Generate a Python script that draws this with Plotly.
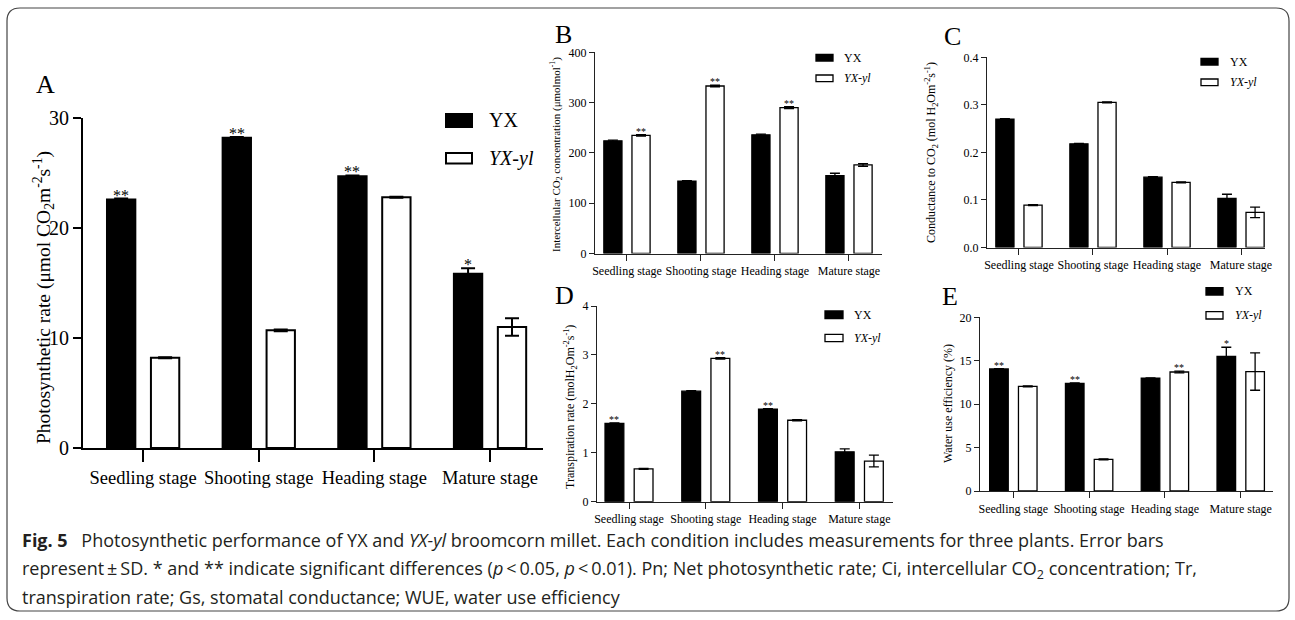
import plotly.graph_objects as go

W, H = 1295, 620

stages = ["Seedling stage", "Shooting stage", "Heading stage", "Mature stage"]
series_names = ["YX", "<i>YX-yl</i>"]

# A: photosynthetic rate
pn_yx = [22.6, 28.2, 24.7, 15.85]
pn_yx_sd = [0.08, 0.08, 0.08, 0.5]
pn_yl = [8.2, 10.7, 22.8, 11.0]
pn_yl_sd = [0.04, 0.08, 0.04, 0.8]
pn_yx_sig = ["**", "**", "**", "*"]
pn_yl_sig = ["", "", "", ""]

# B: intercellular CO2 concentration
ci_yx = [224, 144, 236, 155]
ci_yx_sd = [1.5, 1.0, 1.5, 4.5]
ci_yl = [235, 333, 290, 176]
ci_yl_sd = [1.5, 1.5, 2.0, 2.5]
ci_yx_sig = ["", "", "", ""]
ci_yl_sig = ["**", "**", "**", ""]

# C: conductance to CO2
gs_yx = [0.270, 0.218, 0.148, 0.103]
gs_yx_sd = [0.001, 0.001, 0.001, 0.009]
gs_yl = [0.089, 0.305, 0.137, 0.074]
gs_yl_sd = [0.001, 0.001, 0.001, 0.011]
gs_yx_sig = ["", "", "", ""]
gs_yl_sig = ["", "", "", ""]

# D: transpiration rate
tr_yx = [1.60, 2.26, 1.89, 1.02]
tr_yx_sd = [0.01, 0.01, 0.01, 0.06]
tr_yl = [0.67, 2.93, 1.665, 0.83]
tr_yl_sd = [0.01, 0.015, 0.01, 0.12]
tr_yx_sig = ["**", "", "**", ""]
tr_yl_sig = ["", "**", "", ""]

# E: water use efficiency
wue_yx = [14.05, 12.4, 13.0, 15.5]
wue_yx_sd = [0.05, 0.05, 0.03, 1.05]
wue_yl = [12.05, 3.65, 13.7, 13.75]
wue_yl_sd = [0.05, 0.05, 0.1, 2.15]
wue_yx_sig = ["**", "**", "", "*"]
wue_yl_sig = ["", "", "**", ""]

y_titles = [
    "Photosynthetic rate (μmol CO<sub>2</sub>m<sup>-2</sup>s<sup>-1</sup>)",
    "Intercellular CO<sub>2</sub> concentration (μmolmol<sup>-1</sup>)",
    "Conductance to CO<sub>2</sub> (mol H<sub>2</sub>Om<sup>-2</sup>s<sup>-1</sup>)",
    "Transpiration rate (molH<sub>2</sub>Om<sup>-2</sup>s<sup>-1</sup>)",
    "Water use efficiency (%)",
]
panel_letters = ["A", "B", "C", "D", "E"]

data = [
    (pn_yx, pn_yx_sd, pn_yl, pn_yl_sd, pn_yx_sig, pn_yl_sig),
    (ci_yx, ci_yx_sd, ci_yl, ci_yl_sd, ci_yx_sig, ci_yl_sig),
    (gs_yx, gs_yx_sd, gs_yl, gs_yl_sd, gs_yx_sig, gs_yl_sig),
    (tr_yx, tr_yx_sd, tr_yl, tr_yl_sd, tr_yx_sig, tr_yl_sig),
    (wue_yx, wue_yx_sd, wue_yl, wue_yl_sd, wue_yx_sig, wue_yl_sig),
]

# layout geometry (pixels)
geom = [
    dict(x0=83, x1=543, yb=448, yt=118, xr=[-0.52, 3.458], yr=[0, 30], dt=10, fmt="d",
         tfs=20, xfs=18.5, ttx=43, tty=298, let=(45, 84), lfs=20, lbx=(446, 472), lb1=(114, 127), lb2=(153, 163.5), ltx=487,
         lw=2, ytl=8, xtl=12, sfs=16, sshift=-7, eb=7, axc="#000", title_fs=19.5),
    dict(x0=595, x1=882, yb=253.5, yt=52.3, xr=[-0.432, 3.446], yr=[0, 400], dt=100, fmt="d",
         tfs=12, xfs=12, ttx=556, tty=155, let=(563, 35), lfs=12, lbx=(816, 833), lb1=(54.3, 61), lb2=(75, 81.7), ltx=842,
         lw=1.3, ytl=5, xtl=6, sfs=10, sshift=-4, eb=5, axc="#222", title_fs=11),
    dict(x0=987, x1=1265, yb=247.5, yt=57.3, xr=[-0.432, 3.324], yr=[0, 0.4], dt=0.1, fmt=".1f",
         tfs=12, xfs=12, ttx=931, tty=153, let=(952, 36), lfs=12, lbx=(1201, 1218), lb1=(58.3, 65), lb2=(79, 85.7), ltx=1228,
         lw=1.3, ytl=5, xtl=6, sfs=10, sshift=-4, eb=5, axc="#222", title_fs=12),
    dict(x0=597, x1=893, yb=501.7, yt=306, xr=[-0.417, 3.439], yr=[0, 4], dt=1, fmt="d",
         tfs=12, xfs=12, ttx=570, tty=407, let=(564, 295), lfs=12, lbx=(825, 843), lb1=(311, 318.7), lb2=(334.3, 341.7), ltx=852,
         lw=1.3, ytl=5, xtl=6, sfs=10, sshift=-4, eb=5, axc="#222", title_fs=12),
    dict(x0=980, x1=1273, yb=491, yt=317.3, xr=[-0.44, 3.426], yr=[0, 20], dt=5, fmt="d",
         tfs=12, xfs=12, ttx=948, tty=404, let=(950, 296), lfs=12, lbx=(1206, 1223), lb1=(287.7, 295), lb2=(311.7, 319), ltx=1233,
         lw=1.3, ytl=5, xtl=6, sfs=10, sshift=-4, eb=5, axc="#222", title_fs=12),
]

BARGAP = 0.24
BARGROUPGAP = 0.355
SERIF = "Liberation Serif, Times New Roman, serif"

def px(x):
    return x / W

def py(y):
    return 1 - y / H

fig = go.Figure()
annotations = []
shapes = []

for i, (g, d, ytitle, letter) in enumerate(zip(geom, data, y_titles, panel_letters)):
    n = "" if i == 0 else str(i + 1)
    xa, ya = "x" + n, "y" + n
    yx, yx_sd, yl, yl_sd, yx_sig, yl_sig = d
    for vals, sd, name, fill in ((yx, yx_sd, series_names[0], "#000000"), (yl, yl_sd, series_names[1], "#ffffff")):
        fig.add_trace(go.Bar(
            x=stages, y=vals, name=name, xaxis=xa, yaxis=ya, showlegend=False,
            marker=dict(color=fill, line=dict(color="#000000", width=g["lw"])),
            error_y=dict(type="data", array=sd, visible=True, color="#000000",
                         thickness=g["lw"], width=g["eb"]),
        ))
    fig.layout["xaxis" + n] = dict(
        domain=[px(g["x0"]), px(g["x1"])], anchor=ya, range=g["xr"], type="category",
        showline=True, linecolor=g["axc"], linewidth=g["lw"], ticks="outside",
        ticklen=g["xtl"], tickwidth=g["lw"], tickcolor=g["axc"], showgrid=False, zeroline=False,
        tickangle=0, automargin=False,
        tickfont=dict(family=SERIF, size=g["xfs"], color="#000000"), fixedrange=True,
    )
    fig.layout["yaxis" + n] = dict(
        domain=[py(g["yb"]), py(g["yt"])], anchor=xa, range=g["yr"], dtick=g["dt"], tick0=0,
        tickformat=g["fmt"], showline=True, linecolor=g["axc"], linewidth=g["lw"],
        ticks="outside", ticklen=g["ytl"], tickwidth=g["lw"], tickcolor=g["axc"],
        showgrid=False, zeroline=False, automargin=False,
        tickfont=dict(family=SERIF, size=g["tfs"], color="#000000"), fixedrange=True,
    )
    # axis title
    annotations.append(dict(
        text=ytitle, textangle=-90, xref="paper", yref="paper",
        x=px(g["ttx"]), y=py(g["tty"]), xanchor="center", yanchor="middle",
        showarrow=False, font=dict(family=SERIF, size=g["title_fs"], color="#000000"),
    ))
    # panel letter
    annotations.append(dict(
        text=letter, xref="paper", yref="paper", x=px(g["let"][0]), y=py(g["let"][1]),
        xanchor="center", yanchor="middle", showarrow=False,
        font=dict(family=SERIF, size=26, color="#000000"),
    ))
    # legend (drawn)
    for (ly0, ly1), name, fill in ((g["lb1"], series_names[0], "#000000"), (g["lb2"], series_names[1], "#ffffff")):
        shapes.append(dict(type="rect", xref="paper", yref="paper",
                           x0=px(g["lbx"][0]), x1=px(g["lbx"][1]), y0=py(ly1), y1=py(ly0),
                           fillcolor=fill, line=dict(color="#000000", width=g["lw"])))
        annotations.append(dict(
            text=name, xref="paper", yref="paper", x=px(g["ltx"]), y=py((ly0 + ly1) / 2),
            xanchor="left", yanchor="middle", showarrow=False,
            font=dict(family=SERIF, size=g["lfs"], color="#000000"),
        ))
    # significance marks
    span_px = g["x1"] - g["x0"]
    cat_px = span_px / (g["xr"][1] - g["xr"][0])
    off = cat_px * (1 - BARGAP) / 4
    for vals, sd, sig, sign in ((yx, yx_sd, yx_sig, -1), (yl, yl_sd, yl_sig, 1)):
        for st, v, e, s in zip(stages, vals, sd, sig):
            if s:
                annotations.append(dict(
                    text=s, xref=xa, yref=ya, x=st, y=v + e, xshift=sign * off,
                    yshift=g["sshift"], xanchor="center", yanchor="bottom", showarrow=False,
                    font=dict(family=SERIF, size=g["sfs"], color="#000000"),
                ))

# caption
CAP = "Open Sans, Noto Sans, sans-serif"
cap_lines = [
    "<b>Fig. 5</b>\u2002 Photosynthetic performance of YX and <i>YX-yl</i> broomcorn millet. Each condition includes measurements for three plants. Error bars",
    "represent\u2009±\u2009SD. * and ** indicate significant differences (<i>p</i>\u2009<\u20090.05, <i>p</i>\u2009<\u20090.01). Pn; Net photosynthetic rate; Ci, intercellular CO<sub>2</sub> concentration; Tr,",
    "transpiration rate; Gs, stomatal conductance; WUE, water use efficiency",
]
for k, (line, yc) in enumerate(zip(cap_lines, (540, 569, 597))):
    annotations.append(dict(
        text=line, xref="paper", yref="paper", x=px(20), y=py(yc), xanchor="left", yanchor="middle",
        showarrow=False, font=dict(family=CAP, size=18, color="#231f20"),
    ))

# rounded border
x0, x1, yt, yb, r = 7, 1289, 8, 611, 13
rx, ry = r / W, r / H
X0, X1, YT, YB = px(x0), px(x1), py(yt), py(yb)
path = (f"M {X0},{YT - ry} Q {X0},{YT} {X0 + rx},{YT} L {X1 - rx},{YT} Q {X1},{YT} {X1},{YT - ry} "
        f"L {X1},{YB + ry} Q {X1},{YB} {X1 - rx},{YB} L {X0 + rx},{YB} Q {X0},{YB} {X0},{YB + ry} Z")
shapes.append(dict(type="path", xref="paper", yref="paper", path=path,
                   line=dict(color="#444", width=1.2), fillcolor="rgba(0,0,0,0)", layer="below"))

fig.update_layout(
    width=W, height=H, autosize=False, margin=dict(l=0, r=0, t=0, b=0),
    paper_bgcolor="white", plot_bgcolor="white", barmode="group",
    bargap=BARGAP, bargroupgap=BARGROUPGAP, showlegend=False,
    annotations=annotations, shapes=shapes,
)

fig.write_html("out.html", config={"displayModeBar": False})

# remove the default page margin so the figure sits at the window origin
with open("out.html", "r", encoding="utf-8") as f:
    html = f.read()
html = html.replace("<head>", "<head><style>html,body{margin:0;padding:0;overflow:hidden;}</style>", 1)
with open("out.html", "w", encoding="utf-8") as f:
    f.write(html)
